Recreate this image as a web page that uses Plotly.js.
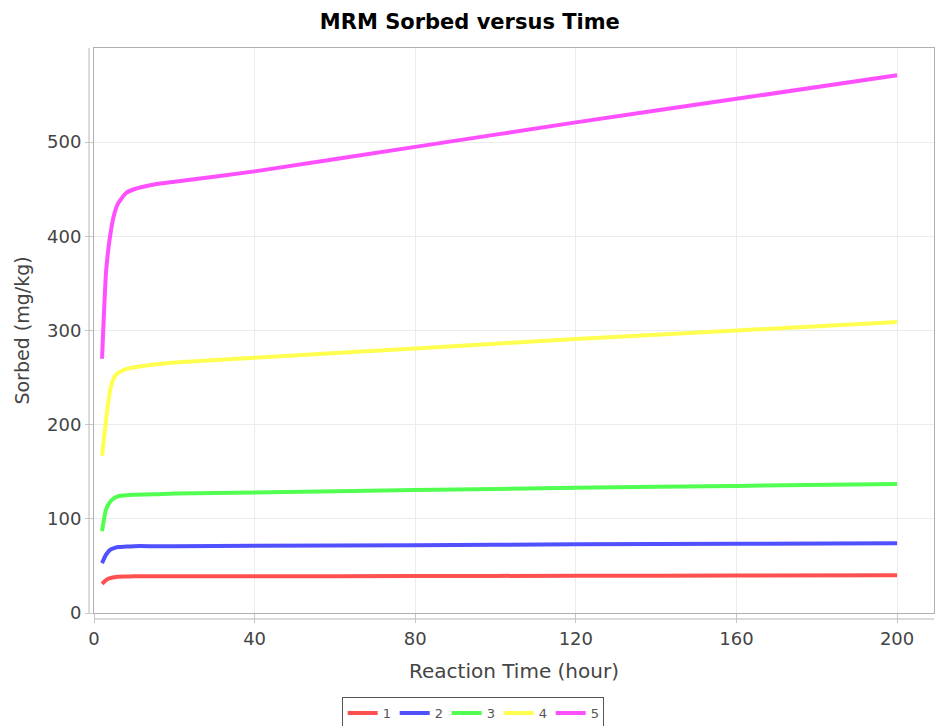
<!DOCTYPE html>
<html>
<head>
<meta charset="utf-8">
<script src="https://cdn.plot.ly/plotly-3.0.1.min.js"></script>
<style>html,body{margin:0;padding:0;background:#fff;}#chart{width:936px;height:726px;}</style>
</head>
<body>
<div id="chart"></div>
<script>
const time = [2, 3, 4, 5, 6, 8, 10, 15, 20, 40, 80, 120, 160, 200];
const series1 = [31, 35, 37, 38, 38.5, 38.7, 39, 39, 39, 39, 39.3, 39.5, 39.7, 40];
const series2 = [53, 62, 67, 69, 70, 70.5, 71, 71, 71, 71.5, 72, 73, 73.5, 74];
const series3 = [87, 110, 118, 122, 124, 125, 125.5, 126, 127, 128, 130.5, 133, 135, 137];
const series4 = [167, 205, 236, 250, 255, 259, 261, 264, 266, 271, 281, 291, 300, 309];
const series5 = [270, 362, 400, 423, 435, 446, 450, 455, 458, 469, 495, 521, 546, 571];
const names = ["1", "2", "3", "4", "5"];
const colors = ["#ff5050", "#5050ff", "#50ff50", "#ffff50", "#ff50ff"];
const xTicks = [0, 40, 80, 120, 160, 200];
const yTicks = [0, 100, 200, 300, 400, 500];

const allSeries = [series1, series2, series3, series4, series5];
const traces = allSeries.map((s, i) => ({
  x: time, y: s, name: names[i], type: "scatter", mode: "lines",
  line: {color: colors[i], width: 4, shape: "spline", smoothing: 0.5}
}));

const font = "DejaVu Sans, Verdana, sans-serif";
const W = 936 - 94 - 2, H = 726 - 48 - 113;
const layout = {
  width: 936, height: 726,
  paper_bgcolor: "#ffffff", plot_bgcolor: "#ffffff",
  margin: {l: 94, r: 2, t: 48, b: 113},
  title: {text: "<b>MRM Sorbed versus Time</b>", font: {family: font, size: 21, color: "#000"}, x: 0.502, xanchor: "center", y: 0.97, yanchor: "middle"},
  xaxis: {
    range: [0, 209.2], tickvals: xTicks, ticktext: xTicks.map(String),
    showgrid: true, gridcolor: "#ececec", zeroline: false,
    showline: true, mirror: true, linecolor: "#b0b0b0", linewidth: 1,
    ticks: "outside", ticklen: 9, tickcolor: "#c8c8c8",
    tickfont: {family: font, size: 18, color: "#444"},
    title: {text: "Reaction Time (hour)", font: {family: font, size: 20, color: "#444"}, standoff: 16}
  },
  yaxis: {
    range: [0, 600], tickvals: yTicks, ticktext: yTicks.map(String),
    showgrid: true, gridcolor: "#ececec", zeroline: false,
    showline: true, mirror: true, linecolor: "#b0b0b0", linewidth: 1,
    ticks: "outside", ticklen: 8, tickcolor: "#c8c8c8",
    tickfont: {family: font, size: 18, color: "#444"},
    title: {text: "Sorbed (mg/kg)", font: {family: font, size: 19, color: "#444"}, standoff: 12}
  },
  shapes: [
    {type: "line", xref: "paper", yref: "paper", x0: -5 / W, x1: -5 / W, y0: 0, y1: 1, line: {color: "#b8b8b8", width: 1}},
    {type: "line", xref: "paper", yref: "paper", x0: 0, x1: 1, y0: -6 / H, y1: -6 / H, line: {color: "#b8b8b8", width: 1}}
  ],
  showlegend: true,
  legend: {
    orientation: "h", xref: "container", yref: "container",
    x: 0.505, xanchor: "center", y: 0.04, yanchor: "top",
    bordercolor: "#555", borderwidth: 1, bgcolor: "#fff",
    font: {family: font, size: 13, color: "#555"},
    itemwidth: 30, tracegroupgap: 0, entrywidth: 7, entrywidthmode: "pixels"
  }
};
Plotly.newPlot("chart", traces, layout, {displayModeBar: false, staticPlot: true});
</script>
</body>
</html>
